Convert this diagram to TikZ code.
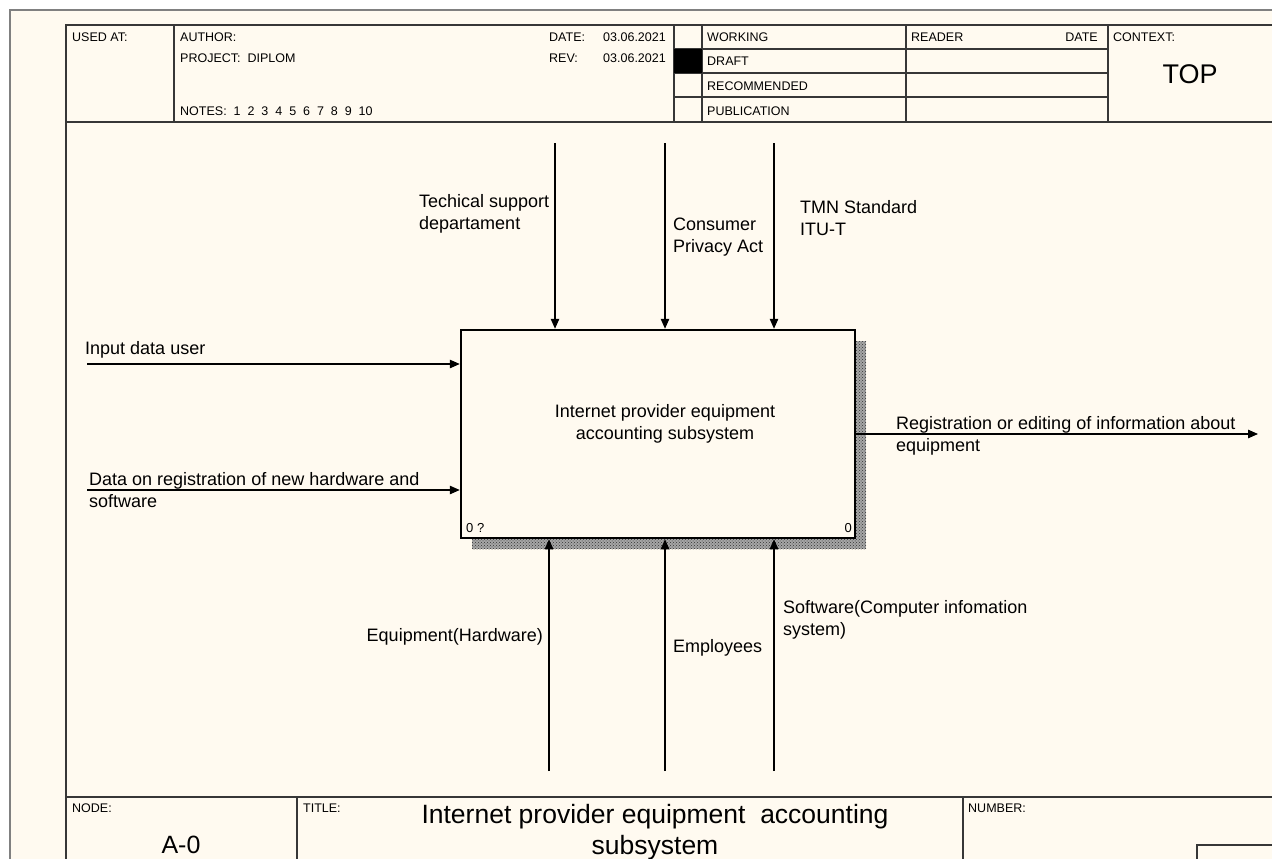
\documentclass[tikz,border=0pt]{standalone}
\usepackage{fontspec}
\setmainfont{Liberation Sans}
\usetikzlibrary{arrows.meta,patterns}
\definecolor{paper}{RGB}{255,250,240}
\definecolor{rulecol}{RGB}{55,55,55}
\begin{document}
\begin{tikzpicture}[x=1pt,y=-1pt,
  frame/.style={draw=rulecol,line width=1.3pt},
  hdr/.style={font=\fontsize{12.5}{14}\selectfont,inner sep=0pt,anchor=base west},
  lbl/.style={font=\fontsize{18}{21.5}\selectfont,inner sep=0pt,align=left,anchor=base west},
  flow/.style={draw=black,line width=1.2pt,-{Triangle[length=10pt,width=8.5pt]}},
  shadow/.style={fill=black!35,postaction={pattern=crosshatch dots,pattern color=black!80}},
]
\useasboundingbox (0,0) rectangle (1272,859);
\fill[white] (0,0) rectangle (1272,859);
\fill[paper] (10,10) rectangle (1272,859);
\draw[gray,line width=2pt] (10,859) -- (10,10) -- (1272,10);

% header frame
\draw[frame] (66,859) -- (66,25) -- (1272,25);
\draw[frame] (66,122) -- (1272,122);
\draw[frame] (174,25) -- (174,122);
\foreach \x in {674,702,906,1108} \draw[frame] (\x,25) -- (\x,122);
\foreach \y in {49,73,97} \draw[frame] (674,\y) -- (1108,\y);
\fill[black] (674,49) rectangle (702,73);

\node[hdr] (usedat) at (72,42) {USED AT:};
\node[hdr] (author) at (180,42) {AUTHOR:};
\node[hdr] (project) at (180,63) {PROJECT:\ \ DIPLOM};
\node[hdr] (notes) at (180,115) {NOTES:\ \ 1\ \ 2\ \ 3\ \ 4\ \ 5\ \ 6\ \ 7\ \ 8\ \ 9\ \ 10};
\node[hdr] (datelbl) at (549,42) {DATE:};
\node[hdr,anchor=base east] (datev) at (666,42) {03.06.2021};
\node[hdr] (revlbl) at (549,63) {REV:};
\node[hdr,anchor=base east] (revv) at (666,63) {03.06.2021};
\node[hdr] (working) at (707,42) {WORKING};
\node[hdr] (draft) at (707,66) {DRAFT};
\node[hdr] (recom) at (707,90) {RECOMMENDED};
\node[hdr] (public) at (707,115) {PUBLICATION};
\node[hdr] (reader) at (911,42) {READER};
\node[hdr,anchor=base east] (rdate) at (1098,42) {DATE};
\node[hdr] (context) at (1113,42) {CONTEXT:};
\node[font=\fontsize{27}{30}\selectfont,inner sep=0pt] (top) at (1190,74) {TOP};

% footer frame
\draw[frame] (66,797) -- (1272,797);
\draw[frame] (297,797) -- (297,859);
\draw[frame] (963,797) -- (963,859);
\draw[frame] (1272,845) -- (1197,845) -- (1197,859);
\node[hdr] (nodelbl) at (72,812) {NODE:};
\node[font=\fontsize{25}{28}\selectfont,inner sep=0pt] (nodeval) at (181,845) {A-0};
\node[hdr] (titlelbl) at (303,812) {TITLE:};
\node[font=\fontsize{26.5}{31}\selectfont,inner sep=0pt,align=center] (title) at (655,832)
  {Internet provider equipment\ \ accounting\\subsystem};
\node[hdr] (numlbl) at (968,812) {NUMBER:};

% activity box with its shadow
\path[shadow] (855,341) rectangle (866,549);
\path[shadow] (472,538) rectangle (855,549);
\node[draw=black,line width=2.5pt,fill=paper,minimum width=394pt,minimum height=208pt,inner sep=0pt] (box) at (658,434) {};
\node[font=\fontsize{18}{21.5}\selectfont,align=center,inner sep=0pt] (boxtext) at (665,424)
  {Internet provider equipment\\accounting subsystem};
\node[font=\fontsize{13}{14}\selectfont,inner sep=0pt,anchor=base west] (boxnum) at (466,532) {0 ?};
\node[font=\fontsize{13}{14}\selectfont,inner sep=0pt,anchor=base east] (boxnode) at (852,532) {0};

% controls
\coordinate (c1) at (555,143);
\coordinate (c2) at (665,143);
\coordinate (c3) at (774,143);
\foreach \c in {c1,c2,c3} \draw[flow] (\c) -- (\c |- box.north);
% mechanisms
\coordinate (m1) at (549,771);
\coordinate (m2) at (665,771);
\coordinate (m3) at (774,771);
\foreach \m in {m1,m2,m3} \draw[flow] (\m) -- (\m |- box.south);
% inputs
\coordinate (i1) at (87,364);
\coordinate (i2) at (87,490);
\foreach \i in {i1,i2} \draw[flow] (\i) -- (\i -| box.west);
% output
\coordinate (o1) at (1258,434);
\draw[flow] (box.east |- o1) -- (o1);

% arrow labels (a multi-line node sits on its last baseline)
\node[lbl] (lc1) at (419,229) {Techical support\\departament};
\node[lbl] (lc2) at (673,252) {Consumer\\Privacy Act};
\node[lbl] (lc3) at (800,235) {TMN Standard\\ITU-T};
\node[lbl] (li1) at (85,354) {Input data user};
\node[lbl] (li2) at (89,507) {Data on registration of new hardware and\\software};
\node[lbl] (lo1) at (896,451) {Registration or editing of information about\\equipment};
\node[lbl,anchor=base east] (lm1) at (543,641) {Equipment(Hardware)};
\node[lbl] (lm2) at (673,652) {Employees};
\node[lbl] (lm3) at (783,635) {Software(Computer infomation\\system)};
\end{tikzpicture}
\end{document}
